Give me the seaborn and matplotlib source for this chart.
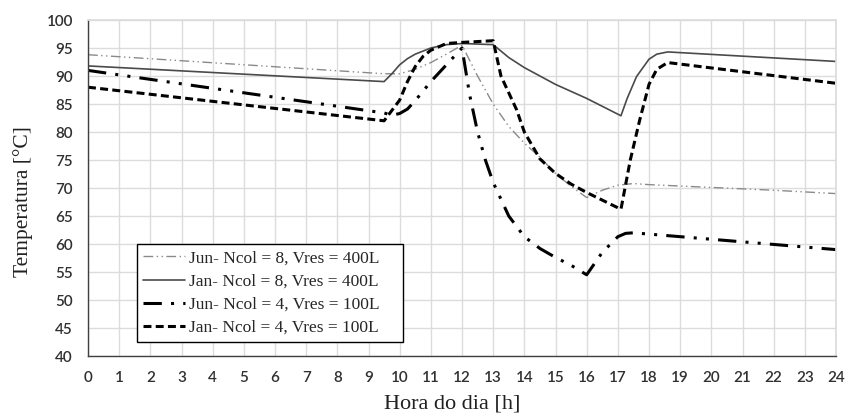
import matplotlib
matplotlib.use("Agg")
import matplotlib.pyplot as plt
import seaborn as sns
import pandas as pd

# ---- data ----
jun8_x = [0, 9.5, 10, 10.5, 11, 11.5, 12, 12.5, 13, 13.5, 14, 14.5, 15, 15.5, 16, 16.5, 17, 17.5, 18, 20, 22, 24]
jun8_y = [93.8, 90.4, 90.4, 91.2, 92.4, 93.9, 95.5, 90.0, 85.0, 81.0, 78.0, 75.5, 72.6, 70.3, 68.3, 69.6, 70.5, 70.8, 70.6, 70.1, 69.6, 69.0]

jan8_x = [0, 9.5, 9.75, 10, 10.25, 10.5, 11, 11.5, 12, 13, 13.5, 14, 14.5, 15, 16, 17.1, 17.3, 17.6, 18, 18.25, 18.6, 24]
jan8_y = [91.8, 89.0, 90.4, 92.0, 93.1, 93.9, 95.0, 95.6, 95.8, 95.6, 93.3, 91.5, 90.0, 88.5, 86.0, 82.9, 86.0, 89.9, 93.0, 93.9, 94.3, 92.6]

jun4_x = [0, 9.5, 9.75, 10, 10.25, 10.5, 11, 11.5, 12, 12.25, 12.5, 12.75, 13, 13.5, 14, 14.5, 15, 15.5, 16, 16.5, 17, 17.25, 17.5, 24]
jun4_y = [91.0, 83.4, 83.0, 83.3, 84.1, 85.6, 89.0, 92.0, 95.0, 86.5, 80.0, 75.0, 71.0, 65.0, 61.3, 59.2, 57.6, 56.2, 54.5, 58.5, 61.3, 61.9, 62.0, 59.0]

jan4_x = [0, 9.5, 10, 10.25, 10.5, 10.75, 11, 11.5, 12, 13, 13.25, 13.5, 13.75, 14, 14.5, 15, 15.5, 16, 17.1, 17.4, 17.7, 18, 18.25, 18.6, 24]
jan4_y = [88.0, 82.0, 85.7, 89.0, 91.7, 93.5, 94.6, 95.8, 96.0, 96.3, 90.0, 87.0, 84.0, 80.0, 75.2, 72.6, 70.7, 69.2, 66.2, 75.0, 82.1, 88.5, 91.2, 92.4, 88.7]

labels = ["Jun- Ncol = 8, Vres = 400L",
          "Jan- Ncol = 8, Vres = 400L",
          "Jun- Ncol = 4, Vres = 100L",
          "Jan- Ncol = 4, Vres = 100L"]

x_ticks = list(range(0, 25))
y_ticks = list(range(40, 101, 5))

sns.set_theme(style="white")
plt.rcParams["font.family"] = ["DejaVu Sans"]

fig = plt.figure(figsize=(8.5, 4.15), dpi=100)
ax = fig.add_axes([88 / 850, 59 / 415, 748 / 850, 336 / 415])

series = [
    (jun8_x, jun8_y, dict(color="#8a8a8a", lw=1.0, dashes=(7, 2.5, 1, 2.5, 1, 2.5))),
    (jan8_x, jan8_y, dict(color="#4a4a4a", lw=1.2)),
    (jun4_x, jun4_y, dict(color="black", lw=2.2, dashes=(6, 3, 1, 3, 1, 3))),
    (jan4_x, jan4_y, dict(color="black", lw=2.2, dashes=(2.6, 1.4))),
]
for (xs, ys, st), lab in zip(series, labels):
    df = pd.DataFrame({"Hora": xs, "Temp": ys})
    kw = dict(st)
    d = kw.pop("dashes", None)
    line_ax = sns.lineplot(data=df, x="Hora", y="Temp", ax=ax, label=lab, **kw)
    if d is not None:
        line_ax.lines[-1].set_dashes(d)

ax.set_xlim(0, 24)
ax.set_ylim(40, 100)
ax.set_xticks(x_ticks)
ax.set_yticks(y_ticks)
ax.grid(True, color="#dcdcdc", lw=1.0)
ax.set_axisbelow(True)
for s in ["top", "right"]:
    ax.spines[s].set_color("#dcdcdc")
for s in ["left", "bottom"]:
    ax.spines[s].set_color("#404040")
    ax.spines[s].set_linewidth(1.0)
ax.tick_params(axis="both", direction="out", length=5, width=1, color="#404040",
               labelsize=11, labelcolor="#303030")
ax.tick_params(axis="y", pad=6)
ax.tick_params(axis="x", pad=6)
for t in ax.get_xticklabels() + ax.get_yticklabels():
    t.set_family(["Lato", "DejaVu Sans"])
    t.set_fontweight("semibold")

ax.set_xlabel("Hora do dia [h]", family=["Liberation Serif"], fontsize=16, color="#202020")
ax.set_ylabel("Temperatura [°C]", family=["Liberation Serif"], fontsize=15.5, color="#202020")
ax.xaxis.set_label_coords(0.487, -0.115)
ax.yaxis.set_label_coords(-0.074, 0.461)

leg = ax.legend(loc="lower left", bbox_to_anchor=(0.066, 0.042, 0.3556, 0.294), mode="expand",
                borderaxespad=0,
                frameon=True, fancybox=False, edgecolor="black", framealpha=1,
                prop={"family": "Liberation Serif", "size": 12.5}, handlelength=2.4,
                labelspacing=0.4, borderpad=0.35, handletextpad=0.2)
leg.get_frame().set_linewidth(1.0)

fig.savefig("out.png", dpi=100)
